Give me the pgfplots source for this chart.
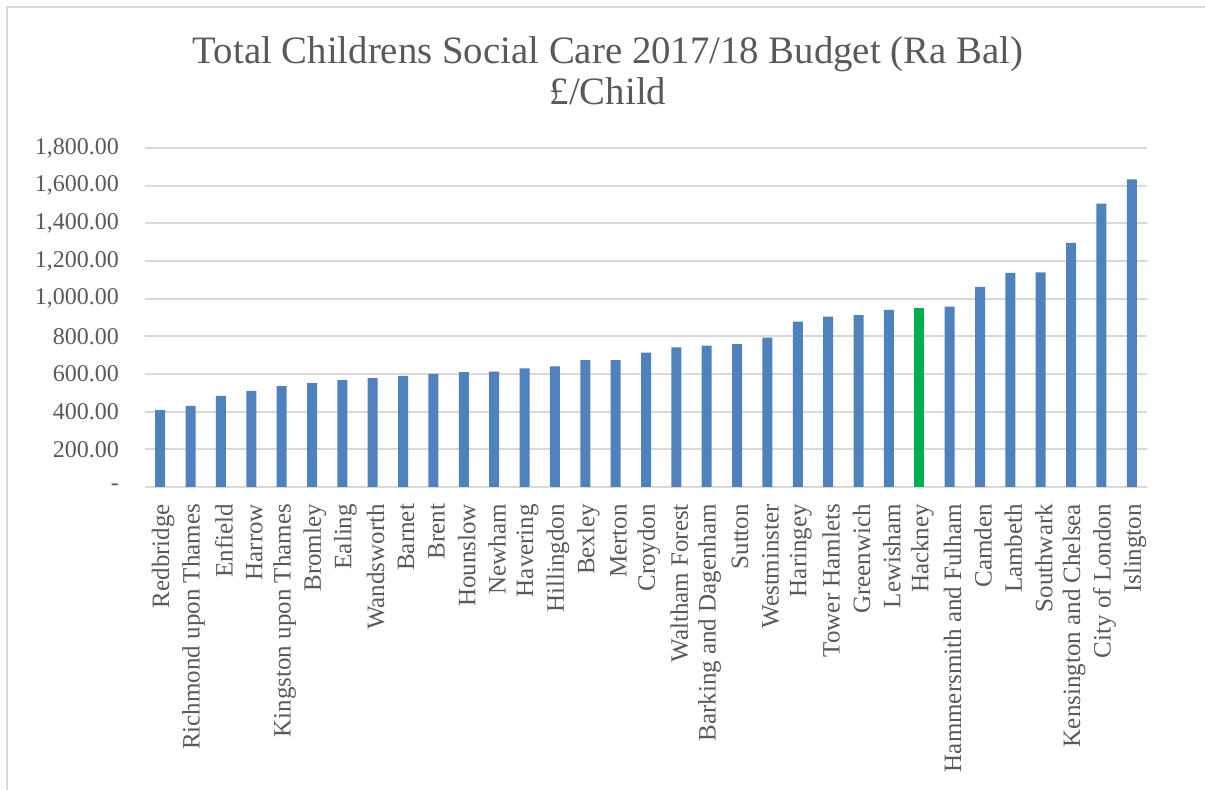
\documentclass[border=0pt]{standalone}
\usepackage{fontspec}
\setmainfont{Liberation Serif}
\usepackage{pgfplots}
\pgfplotsset{compat=1.18}

\definecolor{barblue}{HTML}{4F81BD}
\definecolor{bargreen}{HTML}{00B050}
\definecolor{txtgray}{HTML}{595959}
\definecolor{gridgray}{HTML}{D9D9D9}

\begin{document}
\begin{tikzpicture}
% page frame: 1205x790 px at 0.5pt per px
\useasboundingbox (0,0) rectangle (602.5pt,395pt);
\draw[gridgray, line width=0.8pt] (3.5pt,0) -- (3.5pt,391.5pt) -- (602.5pt,391.5pt);

% anchor=base of a two-line node is the baseline of the last line
\node[text=txtgray, font=\fontsize{19.4}{20.8}\selectfont, align=center, anchor=base]
  at (304pt,342.5pt) {Total Childrens Social Care 2017/18 Budget (Ra Bal)\\ £/Child};

\begin{axis}[
  at={(72.5pt,151.5pt)}, anchor=south west,
  scale only axis, width=501pt, height=169.5pt,
  ybar, bar width=5pt, bar shift=0pt,
  xmin=-0.5, xmax=32.5, ymin=0, ymax=1800,
  axis x line*=bottom, axis y line*=left,
  x axis line style={gridgray, line width=0.9pt, -},
  y axis line style={draw=none},
  ymajorgrids, grid style={gridgray, line width=0.9pt},
  major tick length=0pt,
  xtick={0,...,32},
  xticklabels={Redbridge, Richmond upon Thames, Enfield, Harrow, Kingston upon Thames, Bromley, Ealing, Wandsworth, Barnet, Brent, Hounslow, Newham, Havering, Hillingdon, Bexley, Merton, Croydon, Waltham Forest, Barking and Dagenham, Sutton, Westminster, Haringey, Tower Hamlets, Greenwich, Lewisham, Hackney, Hammersmith and Fulham, Camden, Lambeth, Southwark, Kensington and Chelsea, City of London, Islington},
  % shifts act in the rotated frame: negative xshift moves the label down
  xticklabel style={rotate=90, anchor=east, text=txtgray, font=\fontsize{12.5}{14}\selectfont, xshift=-5pt, yshift=-1.5pt},
  ytick={0,200,...,1800},
  yticklabels={-, 200.00, 400.00, 600.00, 800.00, {1,000.00}, {1,200.00}, {1,400.00}, {1,600.00}, {1,800.00}},
  yticklabel style={anchor=east, text=txtgray, font=\fontsize{12}{14}\selectfont, xshift=-9.5pt},
]
\addplot[fill=barblue, draw=none] coordinates {
  (0,408) (1,431) (2,484) (3,511) (4,536) (5,552) (6,568) (7,578) (8,590) (9,600)
  (10,610) (11,612) (12,630) (13,640) (14,674) (15,674) (16,713) (17,741) (18,750)
  (19,759) (20,793) (21,878) (22,904) (23,913) (24,940) (26,958) (27,1062)
  (28,1137) (29,1140) (30,1296) (31,1505) (32,1633)};
\addplot[fill=bargreen, draw=none] coordinates {(25,952)};
\end{axis}
\end{tikzpicture}
\end{document}
